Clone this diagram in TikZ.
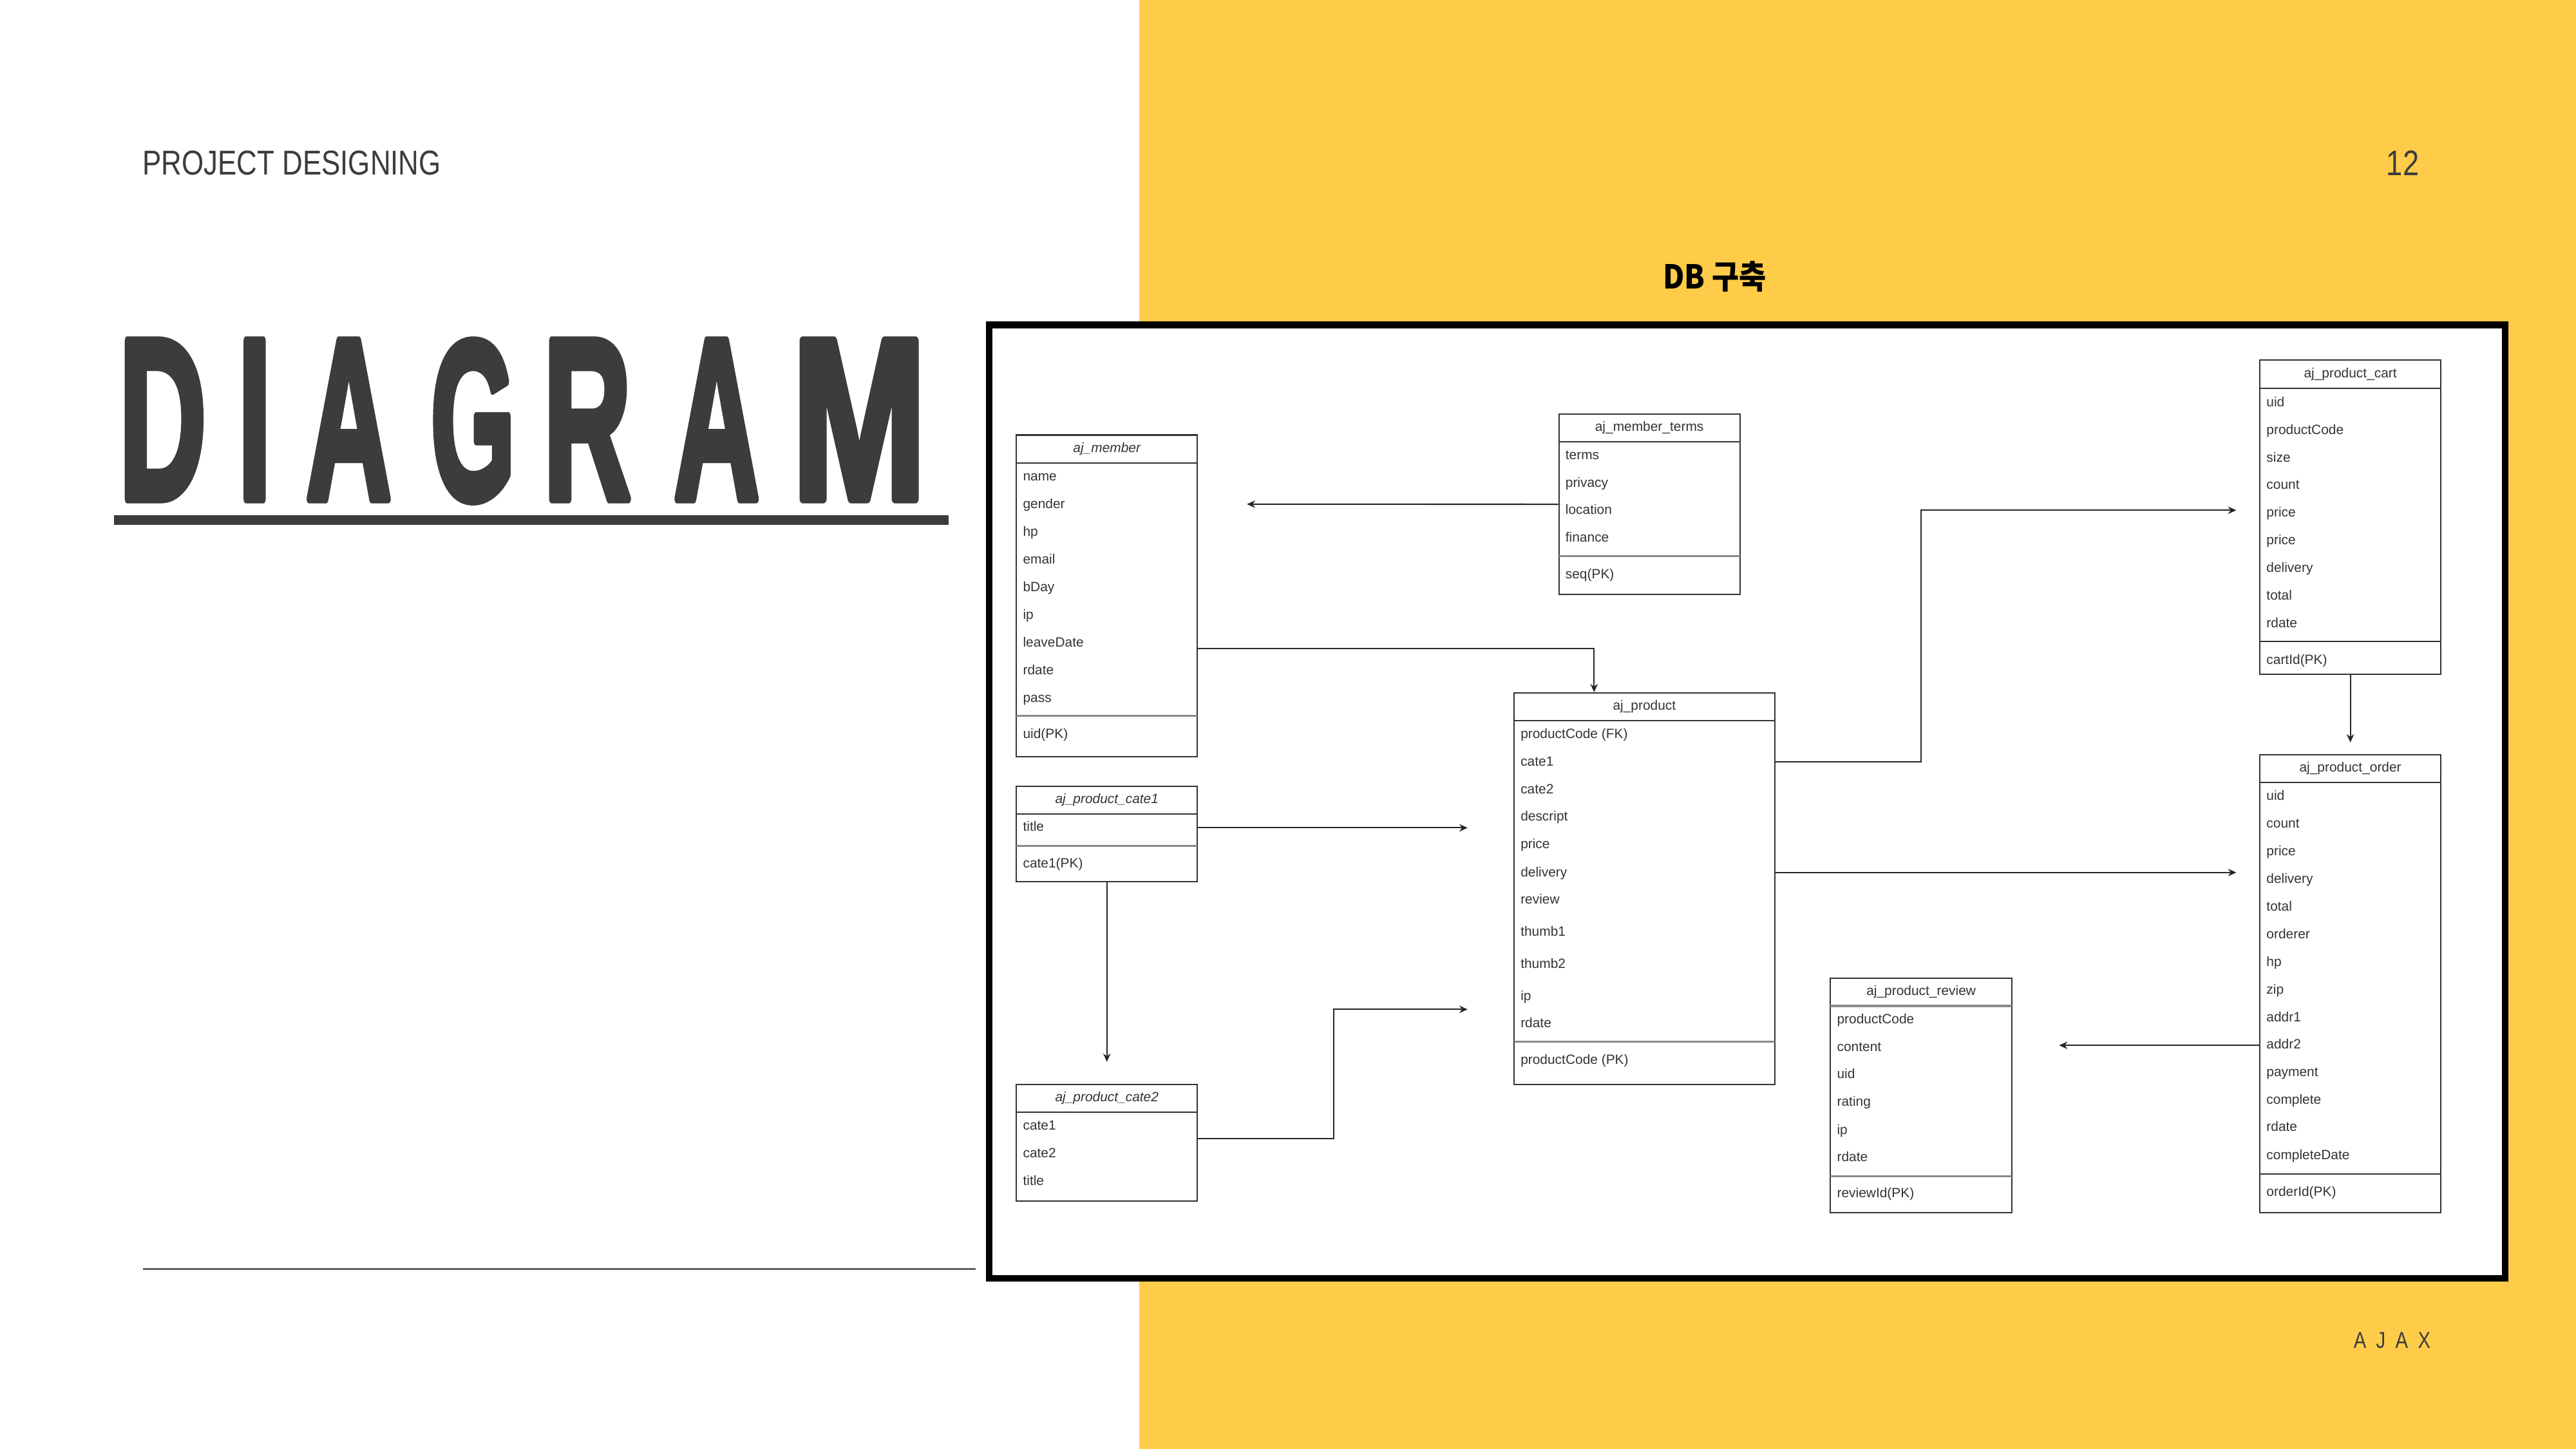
\documentclass[tikz,border=0pt]{standalone}
\usepackage{fontspec}
\usepackage{graphicx}
\setmainfont{Liberation Sans}
\newfontfamily\narrowfont{Liberation Sans}[FakeStretch=0.82]
\newfontfamily\diagfont{Liberation Sans Bold}[FakeBold=4]
\newfontfamily\cjk{Noto Sans CJK KR}[FakeStretch=0.9]
\usetikzlibrary{arrows.meta,fit}
\definecolor{yel}{RGB}{255,204,74}
\definecolor{ink}{HTML}{333333}
\definecolor{dgray}{HTML}{3C3C3C}
\definecolor{sepgray}{HTML}{8A8A8A}
\newcommand\dlet[3]{\rlap{\hskip#1pt\resizebox{#2pt}{96pt}{#3}}}
\tikzset{
  tbl/.style={draw=ink, line width=0.8pt, fill=white, inner sep=0pt},
  rowtxt/.style={anchor=west, inner sep=0pt, font=\fontsize{8.2}{8.2}\selectfont, text=ink, text height=5.9pt, text depth=1.7pt},
  hdr/.style={inner sep=0pt, font=\fontsize{8.2}{8.2}\selectfont, text=ink, text height=5.9pt, text depth=1.7pt},
  hdri/.style={hdr, font=\fontsize{8.2}{8.2}\selectfont\itshape},
  hline/.style={draw=ink, line width=0.8pt},
  sline/.style={draw=sepgray, line width=1.2pt},
  arr/.style={draw=black!85, line width=0.8pt, -{Stealth[length=5pt,width=4.5pt]}},
}
\begin{document}
\begin{tikzpicture}[x=1pt,y=-1pt]
\useasboundingbox (0,0) rectangle (1568,882);
% background
\fill[white] (0,0) rectangle (693.5,882);
\fill[yel] (693.5,0) rectangle (1568,882);

% left side texts
\node[anchor=base west, inner sep=0pt, text=dgray, font=\narrowfont\fontsize{21}{21}\selectfont] (ptitle) at (86.5,106.6) {PROJECT DESIGNING};
\node[anchor=base west, inner sep=0pt, text=dgray, line join=round, font=\diagfont] (diagram) at (0,303.6)
  {\dlet{71.8}{53}{D}\dlet{144.1}{20.4}{I}\dlet{185.6}{52}{A}\dlet{261.5}{51.4}{G}\dlet{330.1}{53.3}{R}\dlet{409.5}{52.1}{A}\dlet{481.4}{81.7}{M}};
\fill[dgray] (69.3,313.5) rectangle (577.5,319.5);
\draw[draw=gray!75!black, line width=1.2pt] (87,772.6) -- (594,772.6);

% right side texts
\node[anchor=base west, inner sep=0pt, text=dgray, font=\narrowfont\fontsize{21.6}{21.6}\selectfont] (pnum) at (1452.5,107) {12};
\node[anchor=base west, inner sep=0pt, text=black, font=\cjk\bfseries\fontsize{20}{20}\selectfont] (dbtitle) at (1012,176) {DB 구축};
\node[anchor=base west, inner sep=0pt, text=dgray, font=\narrowfont\fontsize{14}{14}\selectfont] (ajax) at (1432.5,820.8) {A\hspace{6pt}J\hspace{6pt}A\hspace{6pt}X};

% frame
\draw[line width=4pt, fill=white] (602,197.8) rectangle (1525,778.2);

% ---- aj_member
\node[tbl, fit={(618.7,264.8) (728.8,460.6)}] (member) {};
\draw[hline] (618.7,281.8) -- (728.8,281.8);
\draw[sline] (618.7,435.8) -- (728.8,435.8);
\node[hdri] (memberT) at (673.75,273.3) {aj\_member};
\foreach \yy/\txt [count=\i] in {290.5/name,307.5/gender,324.3/hp,341.2/email,358/bDay,374.9/ip,391.7/leaveDate,408.5/rdate,425.3/pass,447.5/uid(PK)}
  \node[rowtxt] (m\i) at (622.5,\yy) {\txt};

% ---- aj_member_terms
\node[tbl, fit={(948.9,252) (1059,361.9)}] (terms) {};
\draw[hline] (948.9,268.8) -- (1059,268.8);
\draw[sline] (948.9,338.6) -- (1059,338.6);
\node[hdr] (termsT) at (1003.95,260.4) {aj\_member\_terms};
\foreach \yy/\txt [count=\i] in {277.4/terms,294.3/privacy,311/location,327.8/finance,350/seq(PK)}
  \node[rowtxt] (t\i) at (952.7,\yy) {\txt};

% ---- aj_product
\node[tbl, fit={(921.6,421.7) (1080.2,660.1)}] (product) {};
\draw[hline] (921.6,438.7) -- (1080.2,438.7);
\draw[sline] (921.6,634) -- (1080.2,634);
\node[hdr] (productT) at (1000.9,430.2) {aj\_product};
\foreach \yy/\txt [count=\i] in {447.5/productCode (FK),464.2/cate1,481.2/cate2,497.5/descript,514.5/price,531.5/delivery,548.1/review,567.7/thumb1,587.2/thumb2,607/ip,623.3/rdate,645.6/productCode (PK)}
  \node[rowtxt] (p\i) at (925.4,\yy) {\txt};

% ---- aj_product_cate1
\node[tbl, fit={(618.7,478.6) (728.8,536.8)}] (cate1) {};
\draw[hline] (618.7,495.4) -- (728.8,495.4);
\draw[sline] (618.7,515) -- (728.8,515);
\node[hdri] (cate1T) at (673.75,487) {aj\_product\_cate1};
\foreach \yy/\txt [count=\i] in {503.9/title,526.2/cate1(PK)}
  \node[rowtxt] (ca\i) at (622.5,\yy) {\txt};

% ---- aj_product_cate2
\node[tbl, fit={(618.7,660.1) (728.8,731.2)}] (cate2) {};
\draw[hline] (618.7,677) -- (728.8,677);
\node[hdri] (cate2T) at (673.75,668.5) {aj\_product\_cate2};
\foreach \yy/\txt [count=\i] in {685.6/cate1,702.6/cate2,719.2/title}
  \node[rowtxt] (cb\i) at (622.5,\yy) {\txt};

% ---- aj_product_cart
\node[tbl, fit={(1375.6,219.3) (1485.7,410.4)}] (cart) {};
\draw[hline] (1375.6,236.3) -- (1485.7,236.3);
\draw[hline] (1375.6,390.6) -- (1485.7,390.6);
\node[hdr] (cartT) at (1430.65,227.8) {aj\_product\_cart};
\foreach \yy/\txt [count=\i] in {245.4/uid,262.2/productCode,279/size,295.8/count,312.4/price,329.4/price,346.1/delivery,363.1/total,379.8/rdate,402.2/cartId(PK)}
  \node[rowtxt] (k\i) at (1379.4,\yy) {\txt};

% ---- aj_product_order
\node[tbl, fit={(1375.6,459.3) (1485.7,738.1)}] (order) {};
\draw[hline] (1375.6,476.3) -- (1485.7,476.3);
\draw[hline] (1375.6,714.7) -- (1485.7,714.7);
\node[hdr] (orderT) at (1430.65,467.8) {aj\_product\_order};
\foreach \yy/\txt [count=\i] in {484.8/uid,501.8/count,518.8/price,535.4/delivery,552.4/total,569.2/orderer,585.9/hp,602.9/zip,619.7/addr1,636.3/addr2,653.3/payment,670.1/complete,686.6/rdate,703.6/completeDate,726/orderId(PK)}
  \node[rowtxt] (o\i) at (1379.4,\yy) {\txt};

% ---- aj_product_review
\node[tbl, fit={(1114.2,595.3) (1224.6,738.1)}] (review) {};
\draw[sline] (1114.2,612.3) -- (1224.6,612.3);
\draw[sline] (1114.2,716) -- (1224.6,716);
\node[hdr] (reviewT) at (1169.4,603.8) {aj\_product\_review};
\foreach \yy/\txt [count=\i] in {620.8/productCode,637.8/content,654.3/uid,671.3/rating,688.4/ip,704.9/rdate,727/reviewId(PK)}
  \node[rowtxt] (r\i) at (1118,\yy) {\txt};

% ---- connectors
\coordinate (tEnd) at (759,306.9);
\draw[arr] (terms.west) -- (tEnd);

\coordinate (mpBend) at (970.3,394.6);
\draw[arr] (member.east |- mpBend) -- (mpBend) -- (mpBend |- product.north);

\coordinate (c1End) at (893.3,503.9);
\draw[arr] (ca1.west -| cate1.east) -- (c1End);

\coordinate (c12End) at (673.9,646.3);
\draw[arr] (cate1.south) -- (cate1.south |- c12End);

\coordinate (c2Bend) at (811.7,693);
\coordinate (c2End) at (893.3,614.4);
\draw[arr] (cate2.east |- c2Bend) -- (c2Bend) |- (c2End);

\coordinate (pcBend) at (1169.4,463.7);
\coordinate (pcEnd) at (1361.2,310.6);
\draw[arr] (product.east |- pcBend) -- (pcBend) |- (pcEnd);

\coordinate (coEnd) at (1431.1,451.9);
\draw[arr] (cart.south) -- (cart.south |- coEnd);

\coordinate (poEnd) at (1361.2,531.1);
\draw[arr] (product.east |- poEnd) -- (poEnd);

\coordinate (orEnd) at (1253.4,636.3);
\draw[arr] (order.west |- orEnd) -- (orEnd);
\end{tikzpicture}
\end{document}
